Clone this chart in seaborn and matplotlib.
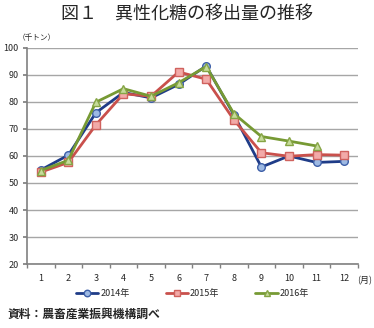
import matplotlib
matplotlib.use("Agg")
import matplotlib.pyplot as plt
import seaborn as sns
import pandas as pd
import numpy as np

months = ["1", "2", "3", "4", "5", "6", "7", "8", "9", "10", "11", "12"]
y2014 = [54.8, 60.3, 76.0, 83.5, 81.5, 86.5, 93.3, 75.3, 55.9, 60.0, 57.6, 58.0]
y2015 = [54.0, 57.6, 71.5, 83.0, 82.1, 91.1, 88.4, 73.4, 61.2, 59.9, 60.5, 60.3]
y2016 = [54.6, 58.4, 79.9, 84.9, 82.1, 87.1, 93.1, 75.7, 67.2, 65.5, 63.7]
series_names = ["2014年", "2015年", "2016年"]
yticks = [20, 30, 40, 50, 60, 70, 80, 90, 100]

sns.set_theme(style="white")
plt.rcParams['font.family'] = ['Noto Sans CJK JP', 'DejaVu Sans']

fig = plt.figure(figsize=(3.74, 3.28), dpi=100)
ax = fig.add_axes([0.072, 0.195, 0.885, 0.659])

styles = [
    dict(color="#1F3C88", marker="o", mfc="#9DB9E3", mec="#3D5FA8"),
    dict(color="#C9504C", marker="s", mfc="#F2AAA8", mec="#D0625E"),
    dict(color="#779A34", marker="^", mfc="#C6DB9A", mec="#86A545"),
]
for name, vals, st in zip(series_names, [y2014, y2015, y2016], styles):
    df = pd.DataFrame({"x": np.arange(len(vals)), "y": vals})
    sns.lineplot(data=df, x="x", y="y", ax=ax, color=st["color"], linewidth=2.0,
                 marker=st["marker"], markersize=5.5, markerfacecolor=st["mfc"],
                 markeredgecolor=st["mec"], markeredgewidth=1.0, label=name)

ax.set_xlim(-0.5, 11.5)
ax.set_ylim(20, 100)
ax.set_yticks(yticks)
ax.set_yticklabels([str(t) for t in yticks], fontsize=6.5)
ax.set_xticks(np.arange(12))
ax.set_xticklabels(months, fontsize=6.5)
ax.set_xticks(np.arange(-0.5, 12, 1), minor=True)
ax.tick_params(axis="x", which="major", length=0, pad=7)
ax.tick_params(axis="x", which="minor", length=3, color="#808080", direction="out", bottom=True)
ax.tick_params(axis="y", length=3, color="#808080", left=True, pad=3)
ax.yaxis.grid(True, color="#A6A6A6", linewidth=1.0)
ax.set_axisbelow(True)
for s in ["top", "right"]:
    ax.spines[s].set_visible(False)
for s in ["left", "bottom"]:
    ax.spines[s].set_color("#808080")
    ax.spines[s].set_linewidth(1.2)
ax.set_xlabel("")
ax.set_ylabel("")

ax.text(0.998, -0.075, "(月)", transform=ax.transAxes, fontsize=6.5, ha="left", va="center")
ax.text(-0.027, 1.045, "（千トン）", transform=ax.transAxes, fontsize=5.5, ha="left", va="center")

leg = ax.legend(loc="upper center", bbox_to_anchor=(0.5, -0.1), ncol=3, frameon=False,
                fontsize=6.5, handlelength=2.5, columnspacing=4.0, handletextpad=0.2,
                borderaxespad=0, markerscale=0.85)

fig.text(0.5, 0.955, "図１　異性化糖の移出量の推移", fontsize=13, ha="center", va="center",
         fontweight="normal")
fig.text(0.02, 0.022, "資料：農畜産業振興機構調べ", fontsize=8.5, ha="left", va="bottom",
         fontweight="bold")

fig.savefig("out.png", dpi=100)
